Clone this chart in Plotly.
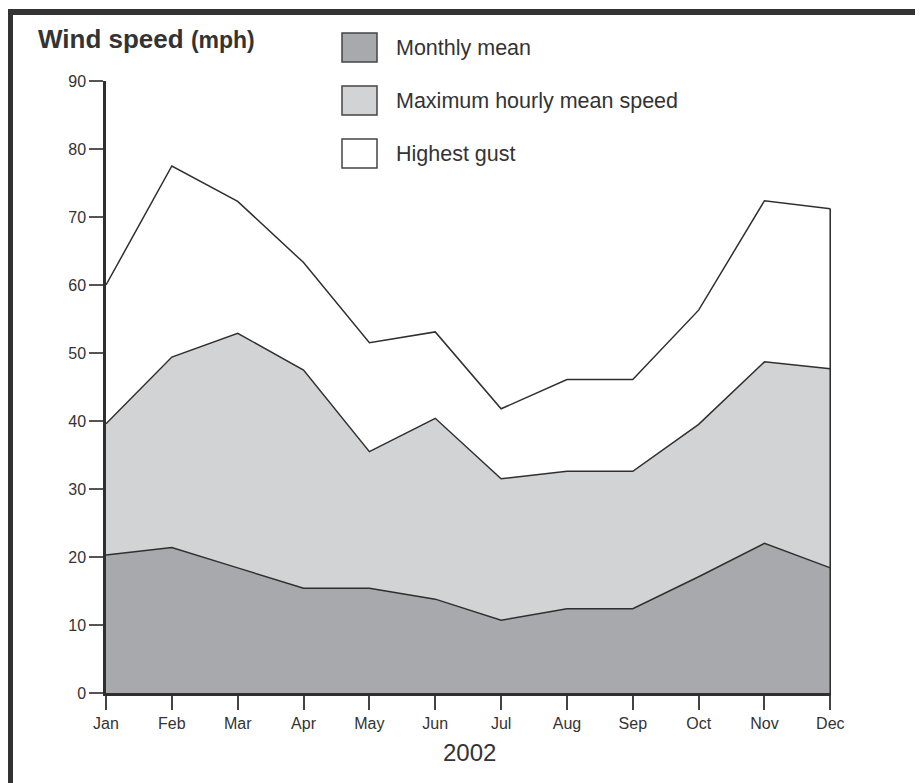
import plotly.graph_objects as go

months = ["Jan", "Feb", "Mar", "Apr", "May", "Jun", "Jul", "Aug", "Sep", "Oct", "Nov", "Dec"]
monthly_mean = [20.3, 21.4, 18.4, 15.4, 15.4, 13.8, 10.7, 12.4, 12.4, 17.1, 22.0, 18.4]
max_hourly = [39.6, 49.4, 52.9, 47.5, 35.5, 40.4, 31.5, 32.6, 32.6, 39.5, 48.7, 47.7]
highest_gust = [60.0, 77.5, 72.3, 63.3, 51.5, 53.1, 41.8, 46.1, 46.1, 56.3, 72.4, 71.2]
y_ticks = [0, 10, 20, 30, 40, 50, 60, 70, 80, 90]
legend_labels = ["Monthly mean", "Maximum hourly mean speed", "Highest gust"]
legend_colors = ["#a7a9ac", "#d1d3d4", "#ffffff"]

# page has an 8px body margin: size the figure to fit and work in window pixels
OFF = 8
W, H = 923 - OFF, 783 - OFF
L, R, T, B = 106 - OFF, 92, 81 - OFF, 90
PW, PH = W - L - R, H - T - B

def px(x):
    return (x - OFF - L) / PW

def py(y):
    return (H - B - (y - OFF)) / PH

LINE = "#2f2f2f"
TXT = "#333333"
FONT = "Liberation Sans, Arial, Helvetica, sans-serif"

fig = go.Figure()
fig.add_trace(go.Scatter(x=months, y=monthly_mean, mode="lines", fill="tozeroy",
                         fillcolor=legend_colors[0], line=dict(color=LINE, width=1.5),
                         hoverinfo="skip", showlegend=False))
fig.add_trace(go.Scatter(x=months, y=max_hourly, mode="lines", fill="tonexty",
                         fillcolor=legend_colors[1], line=dict(color=LINE, width=1.5),
                         hoverinfo="skip", showlegend=False))
fig.add_trace(go.Scatter(x=months, y=highest_gust, mode="lines", fill="tonexty",
                         fillcolor=legend_colors[2], line=dict(color=LINE, width=1.5),
                         hoverinfo="skip", showlegend=False))
# right edge of the stacked areas at the last month
fig.add_trace(go.Scatter(x=[months[-1], months[-1]], y=[0, highest_gust[-1]], mode="lines",
                         line=dict(color=LINE, width=1.8), hoverinfo="skip", showlegend=False))

shapes = []
annotations = []
# legend
box_tops = [33, 86, 139]
for lab, col, top in zip(legend_labels, legend_colors, box_tops):
    shapes.append(dict(type="rect", xref="paper", yref="paper",
                       x0=px(342), x1=px(377), y0=py(top + 29), y1=py(top),
                       fillcolor=col, line=dict(color="#444444", width=1.5)))
    annotations.append(dict(text=lab, xref="paper", yref="paper", x=px(394), y=py(top + 15),
                            xanchor="left", yanchor="middle", showarrow=False,
                            font=dict(size=21.5, color=TXT, family=FONT)))

# frame (top and left)
shapes.append(dict(type="path", xref="paper", yref="paper",
                   path=f"M {px(10)} {py(800)} L {px(10)} {py(12)} L {px(940)} {py(12)}",
                   line=dict(color="#333333", width=6)))

annotations.append(dict(text="<b>Wind speed</b> <b><span style='font-size:23px'>(mph)</span></b>",
                        xref="paper", yref="paper", x=px(36), y=py(39),
                        xanchor="left", yanchor="middle", showarrow=False,
                        font=dict(size=26, color=TXT, family=FONT)))
annotations.append(dict(text="2002", xref="paper", yref="paper", x=px(470), y=py(752),
                        xanchor="center", yanchor="middle", showarrow=False,
                        font=dict(size=24, color=TXT, family=FONT)))

fig.update_layout(
    width=W, height=H,
    margin=dict(l=L, r=R, t=T, b=B),
    paper_bgcolor="white", plot_bgcolor="white",
    font=dict(family=FONT, color=TXT, size=16),
    shapes=shapes, annotations=annotations,
    xaxis=dict(type="category", range=[0, 11.01], showgrid=False, zeroline=False,
               showline=True, linecolor=LINE, linewidth=2.5,
               ticks="outside", ticklen=14, tickwidth=1.5, tickcolor="#444444",
               tickfont=dict(size=16, color=TXT)),
    yaxis=dict(range=[0, 90], tickvals=y_ticks, showgrid=False, zeroline=False,
               showline=True, linecolor=LINE, linewidth=2.5,
               ticks="outside", ticklen=14, tickwidth=1.5, tickcolor="#555555",
               tickfont=dict(size=16, color=TXT)),
)

fig.write_html("out.html")
